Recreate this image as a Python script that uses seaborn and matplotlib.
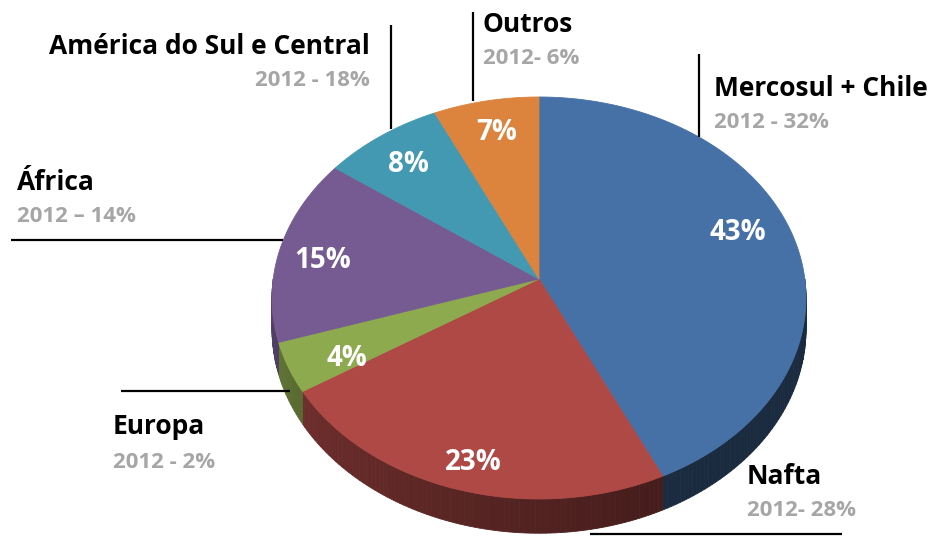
import matplotlib
matplotlib.use("Agg")
import matplotlib.pyplot as plt
import numpy as np
import seaborn as sns

# ---- data ----
regions = ["Mercosul + Chile", "Nafta", "Europa", "África",
           "América do Sul e Central", "Outros"]
share_current = [43, 23, 4, 15, 8, 7]
share_2012 = ["2012 - 32%", "2012- 28%", "2012 - 2%", "2012 – 14%",
              "2012 - 18%", "2012- 6%"]
top_colors = ["#4671a7", "#ae4946", "#8eaa4f", "#765b93", "#4299b1", "#dc843e"]

sns.set_theme(style="white")
plt.rcParams['font.family'] = ['Open Sans', 'DejaVu Sans']

W, H = 938, 536
fig = plt.figure(figsize=(W / 100, H / 100), dpi=100)
ax = fig.add_axes([0, 0, 1, 1])
ax.set_xlim(0, W)
ax.set_ylim(H, 0)
ax.axis('off')

# ---- 3D pie geometry (perspective view of a tilted disc) ----
CX, AY = 539, 279          # projected centre (apex) in px
K, B, A = 265.8, 199.2, 0.0945
D0 = 31                    # thickness


def proj(t_deg):
    t = np.radians(t_deg)
    u, v = np.cos(t), np.sin(t)
    den = 1 + A * v
    return CX + K * u / den, AY - B * v / den, D0 / den


def shade(t):
    return 0.38 + 0.34 * np.clip((-60 - t) / 120, 0, 1)


pal = sns.color_palette(top_colors)
angles = 90 - np.concatenate([[0], np.cumsum(share_current)]) * 360 / 100

# sides (front half only)
for i, col in enumerate(pal):
    a0, a1 = angles[i], angles[i + 1]
    hi, lo = min(a0, 0), max(a1, -180)
    if lo >= hi:
        continue
    ts = np.linspace(hi, lo, max(int((hi - lo) / 1.0) + 2, 2))
    for t1, t2 in zip(ts[:-1], ts[1:]):
        x1, y1, d1 = proj(t1)
        x2, y2, d2 = proj(t2)
        f = shade(0.5 * (t1 + t2))
        c = tuple(np.array(col) * f)
        ax.fill([x1, x2, x2, x1], [y1, y2, y2 + d2, y1 + d1],
                color=c, lw=0.6, ec=c)

# top faces
for i, col in enumerate(pal):
    a0, a1 = angles[i], angles[i + 1]
    ts = np.linspace(a0, a1, max(int((a0 - a1) / 0.5) + 2, 2))
    xs, ys, _ = proj(ts)
    ax.fill(np.concatenate([[CX], xs]), np.concatenate([[AY], ys]),
            color=col, lw=0.6, ec=col)

# percentage labels inside slices
pct_pos = [(738, 232), (473, 462), (347, 358), (323, 260), (408, 165), (497, 132)]
for v, (x, y) in zip(share_current, pct_pos):
    ax.text(x, y, f"{v}%", color="white", fontsize=20, fontweight="bold",
            ha="center", va="center")

# region names and 2012 values
lab_pos = [(714, 88, 'left'), (747, 476, 'left'), (113, 427, 'left'),
           (17, 182, 'left'), (370, 46, 'right'), (483, 24, 'left')]
for name, old, (x, y, ha) in zip(regions, share_2012, lab_pos):
    ax.text(x, y, name, color="black", fontsize=19, fontweight="bold",
            ha=ha, va="center")
    ax.text(x, y + 35, old, color="#a6a6a6", fontsize=16, fontweight="bold",
            ha=ha, va="center")

# leader lines
lines = [((391, 391), (25, 129)), ((473, 473), (12, 101)),
         ((699, 699), (54, 137)), ((11, 283), (240, 240)),
         ((121, 290), (391, 391)), ((590, 842), (534, 534))]
for xs, ys in lines:
    ax.plot(xs, ys, color="black", lw=1.6, solid_capstyle='butt')

fig.savefig("out.png", dpi=100)
